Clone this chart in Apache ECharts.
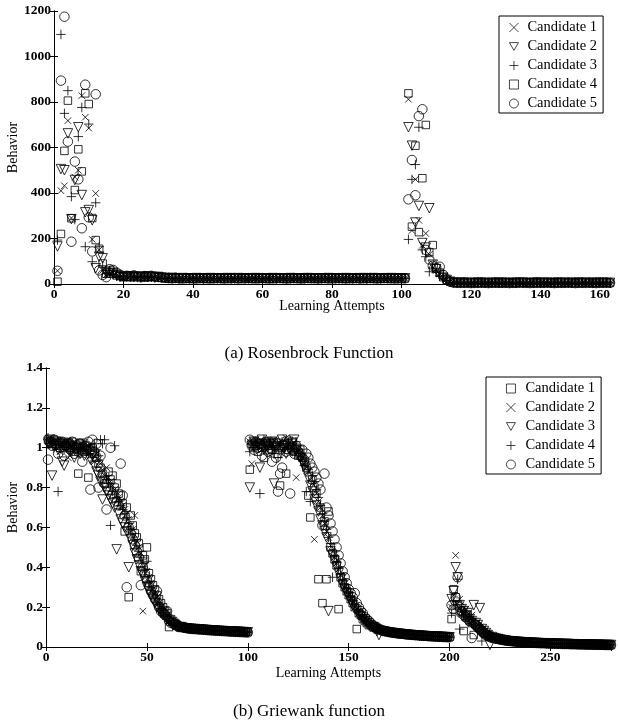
<!DOCTYPE html>
<html><head><meta charset="utf-8">
<script src="https://cdn.jsdelivr.net/npm/echarts@6/dist/echarts.min.js"></script>
<style>html,body{margin:0;padding:0;background:#fff}#c{width:618px;height:725px}</style>
</head><body><div id="c"></div>
<script>
// ---------- (a) Rosenbrock: values for attempts 1..160 ----------
const rosenLegend = ["Candidate 1","Candidate 2","Candidate 3","Candidate 4","Candidate 5"];
const rosenXTicks = [0,20,40,60,80,100,120,140,160];
const rosenC1 = [58,410,432,718,290,470,500,828,733,685,
196,398,150,60,40,45,50,38,30,28,
33,35,32,30,34,31,29,33,30,28,
30,27,26,25,26,24,25,26,25,24,
25,26,25,24,25,26,25,25,24,26,
25,24,25,26,25,25,24,25,26,25,
24,25,26,25,24,25,25,26,25,24,
25,26,25,24,25,25,26,25,24,25,
26,25,24,25,25,26,25,24,25,26,
25,24,25,26,25,25,24,25,26,25,
25,812,235,460,280,170,222,130,90,60,
45,30,20,10,6,5,5,6,5,4,
5,5,6,5,4,5,5,6,5,5,
4,5,6,5,5,4,5,6,5,5,
5,4,5,6,5,5,4,5,5,6,
5,5,4,5,6,5,5,4,5,5];
const rosenC2 = [165,505,500,662,285,457,689,391,315,325,
280,69,120,113,50,55,48,40,32,30,
32,34,30,33,29,31,34,30,28,31,
28,26,25,27,25,24,26,25,24,25,
26,25,24,25,26,25,24,25,25,26,
25,24,26,25,25,24,25,26,25,24,
25,25,26,24,25,25,24,26,25,25,
24,25,26,25,25,24,25,25,26,25,
25,24,25,26,25,24,25,25,26,24,
25,26,25,24,25,25,26,25,24,25,
25,689,608,270,343,180,160,333,85,65,
40,28,18,10,6,5,6,5,5,4,
5,6,5,5,4,5,5,6,5,5,
4,5,5,6,5,5,4,5,6,5,
5,5,4,5,6,5,5,4,5,5,
6,5,5,4,5,5,6,5,4,5];
const rosenC3 = [193,1097,750,850,384,283,648,776,164,703,
98,357,164,80,45,60,42,35,33,30,
34,31,33,29,32,35,30,32,29,30,
27,25,26,24,25,26,25,24,25,26,
25,25,24,26,25,24,25,26,25,25,
24,25,25,26,24,25,26,25,24,25,
26,25,24,25,25,26,25,24,25,26,
25,24,25,25,26,25,24,25,26,25,
24,25,26,25,24,25,25,26,25,24,
25,25,24,26,25,25,24,25,26,25,
25,196,460,525,689,150,120,54,70,50,
35,25,15,8,5,5,4,5,6,5,
5,4,5,5,6,5,5,4,5,6,
5,5,4,5,5,6,5,4,5,5,
6,5,5,4,5,5,5,6,4,5,
5,5,6,5,4,5,5,5,6,5];
const rosenC4 = [10,220,585,806,289,413,592,495,838,791,
290,193,155,90,45,52,45,38,34,30,
31,33,30,34,32,29,31,33,30,29,
27,26,25,26,24,25,25,26,24,25,
25,26,25,24,25,25,26,24,25,25,
26,25,24,25,26,25,25,24,26,25,
25,24,25,26,25,24,26,25,25,24,
25,26,24,25,25,26,25,24,25,25,
26,25,25,24,26,25,24,25,25,26,
24,25,26,25,25,24,25,26,25,25,
25,838,252,608,228,465,699,140,171,70,
50,30,18,10,6,5,5,4,5,6,
5,5,4,6,5,5,5,4,5,6,
5,4,5,5,6,5,5,5,4,5,
6,5,5,4,5,6,5,5,5,4,
5,6,5,5,4,5,5,6,5,5];
const rosenC5 = [58,894,1175,626,186,538,460,245,876,293,
143,834,60,40,30,65,62,50,40,35,
36,33,38,34,30,35,32,36,33,31,
29,27,26,25,27,25,24,26,25,25,
24,26,25,25,24,25,26,25,24,25,
25,26,24,25,25,26,25,24,25,26,
25,24,25,25,26,25,24,25,26,25,
24,25,26,25,25,24,25,26,24,25,
25,26,25,24,25,25,26,24,25,25,
26,25,24,25,26,25,25,24,25,25,
25,372,545,390,738,768,150,108,80,70,
76,40,20,10,6,5,5,6,5,4,
5,5,6,5,4,5,6,5,5,5,
4,5,5,6,5,5,4,5,6,5,
5,6,5,4,5,5,5,6,5,4,
5,5,5,6,5,4,5,5,6,5];

// ---------- (b) Griewank: values for attempts 1..280 ----------
const griewLegend = ["Candidate 1","Candidate 2","Candidate 3","Candidate 4","Candidate 5"];
const griewXTicks = [0,50,100,150,200,250];
const griewC1 = [1.04,1.03,1.02,1.04,1.01,1.03,1.00,1.02,1.03,1.01,
1.02,1.00,1.03,.98,1.01,.87,1.02,1.00,.98,1.01,
.85,.99,1.00,.97,.95,.92,.90,.87,.84,.82,
.88,.84,.86,.80,.82,.77,.76,.72,.58,.70,
.25,.66,.61,.57,.55,.52,.38,.46,.44,.50,
.37,.34,.31,.29,.26,.24,.22,.20,.18,.17,
.10,.14,.13,.12,.11,.10,.10,.098,.096,.095,
.094,.093,.092,.091,.09,.09,.089,.088,.087,.086,
.085,.085,.084,.083,.083,.082,.081,.081,.08,.08,
.079,.079,.078,.078,.077,.077,.076,.076,.075,.075,
.89,1.02,1.03,1.01,.98,1.02,1.00,.95,1.03,1.01,
1.02,.99,1.03,1.01,.97,.81,1.00,1.02,.87,.99,
1.01,1.03,.98,1.00,.96,.99,.95,.93,.90,.76,
.65,.84,.80,.77,.34,.70,.22,.63,.34,.68,
.50,.47,.44,.41,.19,.35,.32,.30,.28,.26,
.24,.22,.20,.09,.17,.16,.14,.13,.12,.11,
.11,.10,.10,.09,.09,.085,.082,.08,.078,.076,
.074,.072,.07,.069,.068,.066,.065,.064,.063,.062,
.061,.06,.059,.058,.057,.057,.056,.055,.055,.054,
.054,.053,.053,.052,.052,.051,.051,.05,.05,.05,
.14,.29,.25,.21,.18,.17,.08,.15,.16,.13,
.12,.06,.11,.10,.09,.08,.07,.065,.06,.055,
.05,.046,.043,.04,.038,.036,.034,.032,.031,.03,
.029,.028,.027,.026,.025,.025,.024,.023,.023,.022,
.022,.021,.021,.02,.02,.019,.019,.018,.018,.018,
.017,.017,.017,.016,.016,.016,.015,.015,.015,.015,
.014,.014,.014,.014,.013,.013,.013,.013,.012,.012,
.012,.012,.012,.011,.011,.011,.011,.011,.01,.01];
const griewC2 = [1.03,1.05,1.01,1.02,1.04,1.00,.98,1.03,1.01,1.02,
.95,1.02,1.00,1.03,.99,1.01,.97,1.02,1.00,.98,
1.01,.96,.99,.93,.97,.94,.92,.89,.86,.90,
.85,.83,.81,.79,.78,.75,.73,.71,.69,.67,
.64,.61,.59,.66,.53,.50,.47,.18,.41,.38,
.35,.32,.29,.27,.25,.22,.20,.18,.17,.16,
.14,.13,.12,.11,.105,.10,.10,.097,.095,.094,
.093,.092,.091,.09,.089,.089,.088,.087,.086,.085,
.085,.084,.083,.083,.082,.081,.081,.08,.08,.079,
.079,.078,.078,.077,.077,.076,.076,.075,.075,.074,
1.03,.92,1.02,1.04,1.00,1.03,.99,1.02,1.01,1.03,
1.00,1.02,1.04,.99,1.02,1.01,1.03,.98,1.05,1.02,
1.03,.99,1.01,.85,.98,.96,.95,.92,.90,.88,
.84,.82,.54,.77,.73,.70,.66,.62,.58,.55,
.51,.48,.45,.42,.39,.36,.33,.30,.28,.26,
.24,.22,.20,.19,.17,.16,.15,.14,.13,.12,
.11,.10,.10,.09,.088,.085,.082,.08,.078,.075,
.073,.072,.07,.069,.067,.066,.065,.064,.063,.062,
.061,.06,.059,.058,.058,.057,.056,.056,.055,.054,
.054,.053,.053,.052,.052,.051,.051,.05,.05,.049,
.20,.26,.46,.22,.24,.18,.17,.19,.15,.14,
.16,.13,.12,.11,.10,.09,.08,.07,.065,.06,
.052,.048,.044,.041,.039,.037,.035,.033,.031,.03,
.029,.028,.027,.026,.026,.025,.024,.024,.023,.022,
.022,.021,.021,.02,.02,.02,.019,.019,.018,.018,
.018,.017,.017,.017,.016,.016,.016,.015,.015,.015,
.015,.014,.014,.014,.014,.013,.013,.013,.013,.012,
.012,.012,.012,.012,.011,.011,.011,.011,.011,.01];
const griewC3 = [1.02,1.04,.86,1.01,1.03,.99,1.02,.93,.91,1.00,
1.02,.98,1.01,.95,.99,1.00,.97,1.02,.96,.99,
.98,.94,.96,.91,.88,.86,.83,.74,.80,.78,
.76,.74,.72,.70,.49,.67,.64,.62,.60,.58,
.40,.54,.51,.47,.44,.41,.38,.36,.33,.30,
.28,.26,.24,.22,.20,.19,.17,.16,.15,.14,
.13,.12,.11,.11,.10,.10,.10,.096,.094,.093,
.092,.091,.09,.09,.089,.088,.087,.086,.086,.085,
.084,.083,.083,.082,.081,.081,.08,.08,.079,.079,
.078,.078,.077,.077,.076,.076,.075,.075,.074,.074,
.80,1.01,1.03,1.00,1.02,.90,1.04,.99,1.01,1.02,
.98,1.03,.82,1.00,1.02,.99,1.04,1.01,.97,1.03,
1.00,1.02,1.04,.99,.97,.95,.93,.91,.88,.85,
.81,.78,.74,.71,.68,.64,.61,.58,.55,.18,
.48,.46,.43,.40,.37,.34,.31,.29,.27,.25,
.23,.21,.19,.18,.16,.15,.14,.13,.12,.11,
.10,.10,.09,.08,.06,.08,.078,.076,.074,.072,
.071,.07,.068,.067,.066,.065,.064,.063,.062,.061,
.06,.059,.058,.058,.057,.056,.055,.055,.054,.054,
.053,.053,.052,.052,.051,.051,.05,.05,.049,.049,
.24,.28,.40,.35,.21,.19,.18,.16,.17,.14,
.13,.21,.12,.11,.195,.09,.08,.07,.06,.01,
.05,.045,.042,.04,.038,.035,.033,.032,.03,.029,
.028,.027,.026,.026,.025,.024,.024,.023,.022,.022,
.021,.021,.02,.02,.019,.019,.019,.018,.018,.018,
.017,.017,.016,.016,.016,.015,.015,.015,.015,.014,
.014,.014,.013,.013,.013,.013,.012,.012,.012,.012,
.011,.011,.011,.011,.011,.01,.01,.01,.01,.01];
const griewC4 = [1.05,1.02,1.03,1.00,1.02,.78,1.01,1.03,.99,1.02,
1.00,1.03,.98,1.01,1.02,.97,1.00,1.02,.99,1.01,
.97,1.00,.95,1.02,.99,.96,1.04,1.02,1.04,.84,
.82,.61,.78,1.01,.75,.73,.71,.69,.67,.65,
.62,.59,.57,.54,.51,.48,.45,.42,.39,.43,
.33,.30,.27,.25,.23,.21,.19,.17,.16,.15,
.13,.12,.12,.11,.11,.10,.10,.098,.096,.095,
.093,.092,.091,.09,.09,.089,.088,.087,.086,.085,
.085,.084,.083,.082,.082,.081,.08,.08,.079,.079,
.078,.078,.077,.077,.076,.076,.075,.075,.074,.074,
.98,1.02,1.00,1.03,1.01,.77,1.02,1.04,.99,1.01,
1.03,1.00,.97,1.02,.95,1.01,1.03,.99,1.02,1.00,
1.02,.98,1.01,1.03,.99,.97,.94,.91,.78,.89,
.73,.86,.83,.79,.75,.71,.67,.63,.59,.55,
.52,.35,.46,.43,.40,.37,.34,.31,.29,.27,
.25,.23,.21,.19,.18,.16,.15,.14,.13,.12,
.11,.10,.10,.09,.088,.084,.081,.079,.077,.075,
.073,.071,.07,.068,.067,.066,.065,.064,.063,.062,
.061,.06,.059,.058,.057,.057,.056,.055,.055,.054,
.053,.053,.052,.052,.051,.051,.05,.05,.05,.049,
.17,.23,.21,.34,.09,.18,.16,.15,.14,.13,
.12,.11,.10,.09,.08,.03,.07,.06,.055,.05,
.05,.047,.043,.041,.038,.036,.034,.033,.031,.03,
.029,.028,.027,.026,.025,.025,.024,.023,.023,.022,
.021,.021,.02,.02,.02,.019,.019,.018,.018,.018,
.017,.017,.017,.016,.016,.016,.015,.015,.015,.015,
.014,.014,.014,.014,.013,.013,.013,.013,.012,.012,
.012,.012,.011,.011,.011,.011,.011,.01,.01,.01];
const griewC5 = [.94,1.03,1.01,1.04,1.02,.97,1.00,1.03,.96,1.01,
1.02,.99,1.03,.97,1.00,.98,1.02,.93,1.01,.99,
1.03,.79,1.04,.98,1.02,.80,.96,.85,.82,.69,
.79,1.00,.77,.75,.73,.71,.92,.76,.66,.30,
.60,.57,.54,.51,.48,.45,.31,.40,.37,.34,
.31,.28,.26,.24,.28,.20,.18,.17,.16,.18,
.13,.12,.12,.11,.11,.10,.10,.098,.096,.094,
.092,.091,.09,.09,.089,.088,.088,.087,.086,.085,
.084,.084,.083,.082,.082,.081,.08,.08,.079,.079,
.078,.077,.077,.076,.076,.075,.075,.074,.074,.073,
1.04,1.01,.99,1.03,1.00,1.02,.96,1.01,1.03,.98,
1.00,.93,1.02,.95,.78,.87,.90,1.01,.98,1.02,
.77,.99,.97,1.01,.98,.96,.99,.94,.97,.95,
.92,.90,.88,.85,.82,.79,.61,.87,.70,.66,
.62,.58,.54,.50,.46,.42,.38,.35,.32,.29,
.27,.25,.27,.22,.20,.18,.17,.15,.14,.13,
.12,.11,.10,.10,.09,.086,.083,.08,.078,.076,
.074,.072,.071,.069,.068,.067,.066,.064,.063,.062,
.061,.06,.06,.059,.058,.057,.056,.056,.055,.054,
.054,.053,.052,.052,.051,.051,.05,.05,.049,.049,
.21,.19,.25,.35,.20,.18,.16,.15,.14,.13,
.045,.12,.11,.10,.09,.08,.07,.06,.055,.05,
.046,.044,.042,.04,.038,.036,.034,.032,.031,.03,
.029,.028,.027,.026,.025,.024,.024,.023,.022,.022,
.021,.021,.02,.02,.019,.019,.019,.018,.018,.017,
.017,.017,.016,.016,.016,.015,.015,.015,.015,.014,
.014,.014,.014,.013,.013,.013,.013,.012,.012,.012,
.012,.011,.011,.011,.011,.011,.01,.01,.01,.01];

// ---------- chart ----------
const FONT = 'Liberation Serif, "Times New Roman", serif';
const SYM = {
  cross: 'path://M0,0L10,10M10,0L0,10',
  plus: 'path://M5,0L5,10M0,5L10,5',
  tri: 'path://M0,0L10,0L5,8.66Z',
  rect: 'rect',
  circle: 'circle'
};
const SIZE = {cross: 6.5, plus: 9.5, tri: 9.5, rect: 7.5, circle: 9.5};
const pts = arr => arr.map((v, i) => [i + 1, v]);

function sc(name, data, sym, xi, yi) {
  return {
    type: 'scatter', name: name, data: pts(data),
    xAxisIndex: xi, yAxisIndex: yi,
    symbol: SYM[sym], symbolSize: SIZE[sym],
    itemStyle: {color: 'rgba(0,0,0,0)', borderColor: '#000', borderWidth: 1},
    emphasis: {disabled: true}, silent: true
  };
}

const topSyms = ['cross','tri','plus','rect','circle'];
const botSyms = ['rect','cross','tri','plus','circle'];
const topData = [rosenC1, rosenC2, rosenC3, rosenC4, rosenC5];
const botData = [griewC1, griewC2, griewC3, griewC4, griewC5];

const series = [];
topData.forEach((d, i) => series.push(sc('a' + i, d, topSyms[i], 0, 0)));
botData.forEach((d, i) => series.push(sc('b' + i, d, botSyms[i], 2, 2)));

const lbl = {fontFamily: FONT, fontSize: 13.5, fontWeight: 'bold', color: '#000', formatter: v => String(v)};
const axLine = {show: true, lineStyle: {color: '#000', width: 1}};
const tick = {show: true, inside: true, length: 4, lineStyle: {color: '#000', width: 1}};

function xa(grid, max, interval, pos, main, gap) {
  const lab = Object.assign({show: true, margin: 4, showMaxLabel: max % interval === 0}, lbl);
  if (max % interval === 0) lab.alignMaxLabel = 'right';
  return {
    type: 'value', gridIndex: grid, min: 0, max: max, interval: interval, position: pos,
    axisLine: axLine, axisTick: tick, splitLine: {show: false},
    axisLabel: main ? lab : {show: false},
    name: main ? 'Learning Attempts' : '', nameLocation: 'middle', nameGap: gap || 0,
    nameMoveOverlap: false,
    nameTextStyle: {fontFamily: FONT, fontSize: 14, color: '#000'}
  };
}
function ya(grid, max, interval, pos, main, gap) {
  return {
    type: 'value', gridIndex: grid, min: 0, max: max, interval: interval, position: pos,
    axisLine: axLine, axisTick: tick, splitLine: {show: false},
    axisLabel: main ? Object.assign({show: true, margin: 3}, lbl) : {show: false},
    name: main ? 'Behavior' : '', nameLocation: 'middle', nameGap: gap,
    nameMoveOverlap: false,
    nameTextStyle: {fontFamily: FONT, fontSize: 14, color: '#000'}
  };
}

function leg(ids, syms, left, top, padL, txtPad) {
  return {
    data: ids.map((id, i) => ({name: id, icon: SYM[syms[i]]})),
    formatter: n => 'Candidate ' + (Number(n.slice(1)) + 1),
    orient: 'vertical', left: left, top: top,
    backgroundColor: '#fff', borderColor: '#000', borderWidth: 1,
    padding: [4, 6, 2, padL], itemGap: 4, itemWidth: 9, itemHeight: 9,
    selectedMode: false,
    itemStyle: {color: 'rgba(0,0,0,0)', borderColor: '#000', borderWidth: 0.9},
    textStyle: {fontFamily: FONT, fontSize: 14.5, color: '#000', padding: [0, 0, 0, txtPad]}
  };
}

const chart = echarts.init(document.getElementById('c'), null, {renderer: 'canvas'});
chart.setOption({
  animation: false,
  backgroundColor: '#fff',
  title: [
    {text: '(a) Rosenbrock Function', left: 'center', top: 340,
     textStyle: {fontFamily: FONT, fontSize: 17, fontWeight: 'normal', color: '#000'}},
    {text: '(b) Griewank function', left: 'center', top: 698,
     textStyle: {fontFamily: FONT, fontSize: 17, fontWeight: 'normal', color: '#000'}}
  ],
  grid: [
    {left: 54, top: 11, width: 556, height: 273, outerBoundsMode: 'none', containLabel: false},
    {left: 46, top: 368, width: 565, height: 279, outerBoundsMode: 'none', containLabel: false}
  ],
  xAxis: [
    xa(0, 160, 20, 'bottom', true, 15), xa(0, 160, 20, 'top', false),
    xa(1, 280, 50, 'bottom', true, 19), xa(1, 280, 50, 'top', false)
  ],
  yAxis: [
    ya(0, 1200, 200, 'left', true, 34), ya(0, 1200, 200, 'right', false, 0),
    ya(1, 1.4, 0.2, 'left', true, 26), ya(1, 1.4, 0.2, 'right', false, 0)
  ],
  legend: [
    leg(['a0','a1','a2','a3','a4'], topSyms, 499, 16, 10, 4),
    leg(['b0','b1','b2','b3','b4'], botSyms, 486, 377, 20, 5)
  ],
  series: series
});
</script>
</body></html>
